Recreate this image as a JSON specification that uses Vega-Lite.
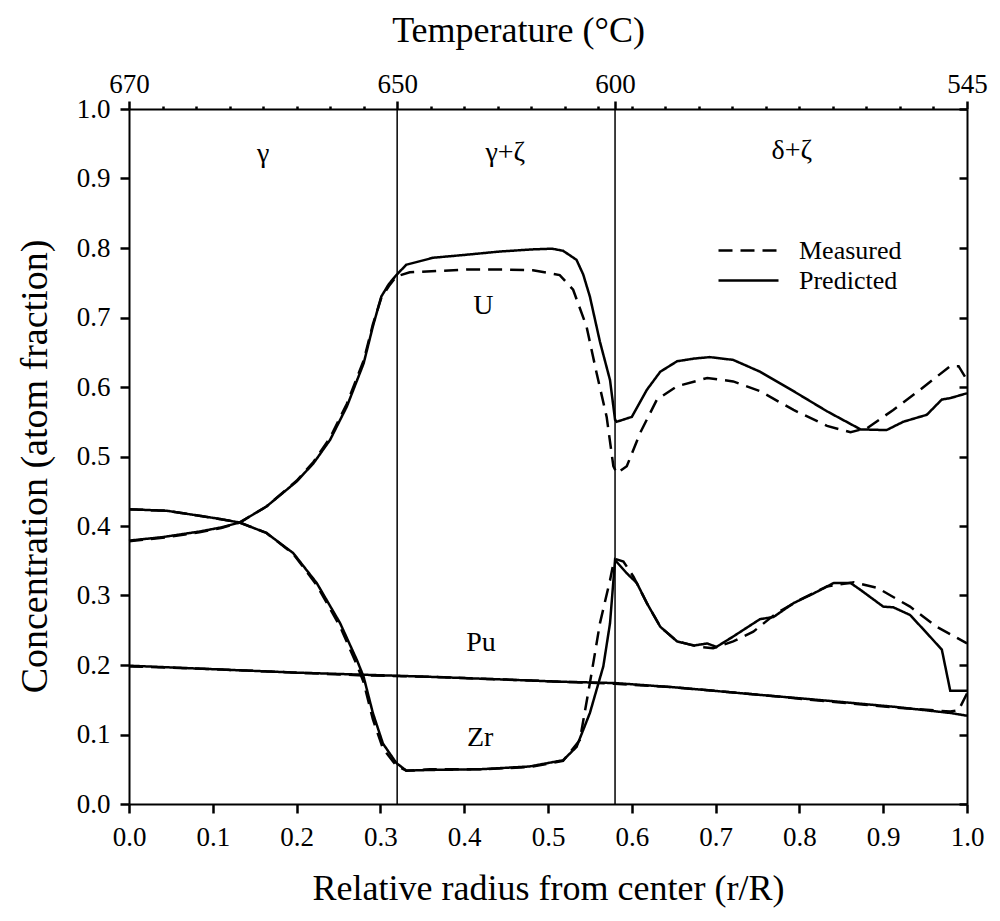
{
  "$schema": "https://vega.github.io/schema/vega-lite/v6.json",
  "width": 838,
  "height": 695,
  "autosize": {"type": "none"},
  "padding": {"left": 129, "top": 109, "right": 33, "bottom": 117},
  "background": "white",
  "config": {
    "view": {"stroke": null},
    "axis": {"domainColor": "black", "domainWidth": 2, "tickColor": "black", "tickWidth": 2.5, "labelColor": "black", "titleColor": "black", "labelFont": "Liberation Serif", "titleFont": "Liberation Serif", "titleFontWeight": "normal", "grid": false, "labelFlush": false, "labelOverlap": false}
  },
  "datasets": {
    "curves": [
      {"el": "U", "kind": "Predicted", "r": 0.000, "c": 0.379},
      {"el": "U", "kind": "Predicted", "r": 0.040, "c": 0.384},
      {"el": "U", "kind": "Predicted", "r": 0.084, "c": 0.392},
      {"el": "U", "kind": "Predicted", "r": 0.110, "c": 0.398},
      {"el": "U", "kind": "Predicted", "r": 0.132, "c": 0.405},
      {"el": "U", "kind": "Predicted", "r": 0.164, "c": 0.428},
      {"el": "U", "kind": "Predicted", "r": 0.200, "c": 0.464},
      {"el": "U", "kind": "Predicted", "r": 0.220, "c": 0.490},
      {"el": "U", "kind": "Predicted", "r": 0.240, "c": 0.524},
      {"el": "U", "kind": "Predicted", "r": 0.260, "c": 0.572},
      {"el": "U", "kind": "Predicted", "r": 0.280, "c": 0.634},
      {"el": "U", "kind": "Predicted", "r": 0.291, "c": 0.687},
      {"el": "U", "kind": "Predicted", "r": 0.301, "c": 0.730},
      {"el": "U", "kind": "Predicted", "r": 0.310, "c": 0.748},
      {"el": "U", "kind": "Predicted", "r": 0.319, "c": 0.761},
      {"el": "U", "kind": "Predicted", "r": 0.331, "c": 0.776},
      {"el": "U", "kind": "Predicted", "r": 0.363, "c": 0.786},
      {"el": "U", "kind": "Predicted", "r": 0.400, "c": 0.790},
      {"el": "U", "kind": "Predicted", "r": 0.443, "c": 0.795},
      {"el": "U", "kind": "Predicted", "r": 0.482, "c": 0.798},
      {"el": "U", "kind": "Predicted", "r": 0.505, "c": 0.799},
      {"el": "U", "kind": "Predicted", "r": 0.518, "c": 0.796},
      {"el": "U", "kind": "Predicted", "r": 0.534, "c": 0.783},
      {"el": "U", "kind": "Predicted", "r": 0.542, "c": 0.762},
      {"el": "U", "kind": "Predicted", "r": 0.550, "c": 0.730},
      {"el": "U", "kind": "Predicted", "r": 0.562, "c": 0.665},
      {"el": "U", "kind": "Predicted", "r": 0.574, "c": 0.610},
      {"el": "U", "kind": "Predicted", "r": 0.580, "c": 0.553},
      {"el": "U", "kind": "Predicted", "r": 0.582, "c": 0.550},
      {"el": "U", "kind": "Predicted", "r": 0.600, "c": 0.557},
      {"el": "U", "kind": "Predicted", "r": 0.618, "c": 0.596},
      {"el": "U", "kind": "Predicted", "r": 0.634, "c": 0.622},
      {"el": "U", "kind": "Predicted", "r": 0.654, "c": 0.637},
      {"el": "U", "kind": "Predicted", "r": 0.675, "c": 0.641},
      {"el": "U", "kind": "Predicted", "r": 0.693, "c": 0.643},
      {"el": "U", "kind": "Predicted", "r": 0.721, "c": 0.639},
      {"el": "U", "kind": "Predicted", "r": 0.753, "c": 0.622},
      {"el": "U", "kind": "Predicted", "r": 0.793, "c": 0.594},
      {"el": "U", "kind": "Predicted", "r": 0.833, "c": 0.565},
      {"el": "U", "kind": "Predicted", "r": 0.873, "c": 0.539},
      {"el": "U", "kind": "Predicted", "r": 0.904, "c": 0.538},
      {"el": "U", "kind": "Predicted", "r": 0.924, "c": 0.550},
      {"el": "U", "kind": "Predicted", "r": 0.952, "c": 0.560},
      {"el": "U", "kind": "Predicted", "r": 0.970, "c": 0.582},
      {"el": "U", "kind": "Predicted", "r": 0.980, "c": 0.584},
      {"el": "U", "kind": "Predicted", "r": 1.000, "c": 0.591},

      {"el": "U", "kind": "Measured", "r": 0.000, "c": 0.378},
      {"el": "U", "kind": "Measured", "r": 0.040, "c": 0.383},
      {"el": "U", "kind": "Measured", "r": 0.084, "c": 0.391},
      {"el": "U", "kind": "Measured", "r": 0.110, "c": 0.397},
      {"el": "U", "kind": "Measured", "r": 0.132, "c": 0.405},
      {"el": "U", "kind": "Measured", "r": 0.164, "c": 0.428},
      {"el": "U", "kind": "Measured", "r": 0.200, "c": 0.465},
      {"el": "U", "kind": "Measured", "r": 0.220, "c": 0.492},
      {"el": "U", "kind": "Measured", "r": 0.240, "c": 0.527},
      {"el": "U", "kind": "Measured", "r": 0.260, "c": 0.576},
      {"el": "U", "kind": "Measured", "r": 0.280, "c": 0.638},
      {"el": "U", "kind": "Measured", "r": 0.291, "c": 0.690},
      {"el": "U", "kind": "Measured", "r": 0.301, "c": 0.728},
      {"el": "U", "kind": "Measured", "r": 0.310, "c": 0.745},
      {"el": "U", "kind": "Measured", "r": 0.319, "c": 0.759},
      {"el": "U", "kind": "Measured", "r": 0.335, "c": 0.765},
      {"el": "U", "kind": "Measured", "r": 0.403, "c": 0.769},
      {"el": "U", "kind": "Measured", "r": 0.450, "c": 0.769},
      {"el": "U", "kind": "Measured", "r": 0.482, "c": 0.768},
      {"el": "U", "kind": "Measured", "r": 0.514, "c": 0.761},
      {"el": "U", "kind": "Measured", "r": 0.530, "c": 0.740},
      {"el": "U", "kind": "Measured", "r": 0.546, "c": 0.687},
      {"el": "U", "kind": "Measured", "r": 0.558, "c": 0.620},
      {"el": "U", "kind": "Measured", "r": 0.570, "c": 0.557},
      {"el": "U", "kind": "Measured", "r": 0.578, "c": 0.486},
      {"el": "U", "kind": "Measured", "r": 0.582, "c": 0.476},
      {"el": "U", "kind": "Measured", "r": 0.594, "c": 0.486},
      {"el": "U", "kind": "Measured", "r": 0.610, "c": 0.534},
      {"el": "U", "kind": "Measured", "r": 0.630, "c": 0.582},
      {"el": "U", "kind": "Measured", "r": 0.654, "c": 0.601},
      {"el": "U", "kind": "Measured", "r": 0.690, "c": 0.613},
      {"el": "U", "kind": "Measured", "r": 0.721, "c": 0.608},
      {"el": "U", "kind": "Measured", "r": 0.753, "c": 0.594},
      {"el": "U", "kind": "Measured", "r": 0.793, "c": 0.567},
      {"el": "U", "kind": "Measured", "r": 0.833, "c": 0.544},
      {"el": "U", "kind": "Measured", "r": 0.861, "c": 0.535},
      {"el": "U", "kind": "Measured", "r": 0.881, "c": 0.541},
      {"el": "U", "kind": "Measured", "r": 0.912, "c": 0.567},
      {"el": "U", "kind": "Measured", "r": 0.944, "c": 0.596},
      {"el": "U", "kind": "Measured", "r": 0.980, "c": 0.630},
      {"el": "U", "kind": "Measured", "r": 0.990, "c": 0.630},
      {"el": "U", "kind": "Measured", "r": 1.000, "c": 0.610},

      {"el": "Zr", "kind": "Predicted", "r": 0.000, "c": 0.424},
      {"el": "Zr", "kind": "Predicted", "r": 0.045, "c": 0.422},
      {"el": "Zr", "kind": "Predicted", "r": 0.104, "c": 0.411},
      {"el": "Zr", "kind": "Predicted", "r": 0.132, "c": 0.405},
      {"el": "Zr", "kind": "Predicted", "r": 0.164, "c": 0.390},
      {"el": "Zr", "kind": "Predicted", "r": 0.196, "c": 0.361},
      {"el": "Zr", "kind": "Predicted", "r": 0.224, "c": 0.318},
      {"el": "Zr", "kind": "Predicted", "r": 0.252, "c": 0.260},
      {"el": "Zr", "kind": "Predicted", "r": 0.272, "c": 0.207},
      {"el": "Zr", "kind": "Predicted", "r": 0.280, "c": 0.183},
      {"el": "Zr", "kind": "Predicted", "r": 0.291, "c": 0.131},
      {"el": "Zr", "kind": "Predicted", "r": 0.303, "c": 0.087},
      {"el": "Zr", "kind": "Predicted", "r": 0.319, "c": 0.059},
      {"el": "Zr", "kind": "Predicted", "r": 0.331, "c": 0.048},
      {"el": "Zr", "kind": "Predicted", "r": 0.359, "c": 0.049},
      {"el": "Zr", "kind": "Predicted", "r": 0.419, "c": 0.050},
      {"el": "Zr", "kind": "Predicted", "r": 0.478, "c": 0.054},
      {"el": "Zr", "kind": "Predicted", "r": 0.518, "c": 0.063},
      {"el": "Zr", "kind": "Predicted", "r": 0.534, "c": 0.082},
      {"el": "Zr", "kind": "Predicted", "r": 0.550, "c": 0.131},
      {"el": "Zr", "kind": "Predicted", "r": 0.566, "c": 0.198},
      {"el": "Zr", "kind": "Predicted", "r": 0.574, "c": 0.260},
      {"el": "Zr", "kind": "Predicted", "r": 0.580, "c": 0.351},
      {"el": "Zr", "kind": "Predicted", "r": 0.594, "c": 0.332},
      {"el": "Zr", "kind": "Predicted", "r": 0.606, "c": 0.318},
      {"el": "Zr", "kind": "Predicted", "r": 0.618, "c": 0.289},
      {"el": "Zr", "kind": "Predicted", "r": 0.634, "c": 0.255},
      {"el": "Zr", "kind": "Predicted", "r": 0.654, "c": 0.234},
      {"el": "Zr", "kind": "Predicted", "r": 0.674, "c": 0.228},
      {"el": "Zr", "kind": "Predicted", "r": 0.690, "c": 0.231},
      {"el": "Zr", "kind": "Predicted", "r": 0.701, "c": 0.226},
      {"el": "Zr", "kind": "Predicted", "r": 0.721, "c": 0.241},
      {"el": "Zr", "kind": "Predicted", "r": 0.753, "c": 0.266},
      {"el": "Zr", "kind": "Predicted", "r": 0.769, "c": 0.269},
      {"el": "Zr", "kind": "Predicted", "r": 0.793, "c": 0.289},
      {"el": "Zr", "kind": "Predicted", "r": 0.817, "c": 0.303},
      {"el": "Zr", "kind": "Predicted", "r": 0.841, "c": 0.318},
      {"el": "Zr", "kind": "Predicted", "r": 0.861, "c": 0.318},
      {"el": "Zr", "kind": "Predicted", "r": 0.873, "c": 0.308},
      {"el": "Zr", "kind": "Predicted", "r": 0.900, "c": 0.284},
      {"el": "Zr", "kind": "Predicted", "r": 0.912, "c": 0.283},
      {"el": "Zr", "kind": "Predicted", "r": 0.932, "c": 0.272},
      {"el": "Zr", "kind": "Predicted", "r": 0.952, "c": 0.246},
      {"el": "Zr", "kind": "Predicted", "r": 0.970, "c": 0.222},
      {"el": "Zr", "kind": "Predicted", "r": 0.980, "c": 0.163},
      {"el": "Zr", "kind": "Predicted", "r": 1.000, "c": 0.163},

      {"el": "Zr", "kind": "Measured", "r": 0.000, "c": 0.424},
      {"el": "Zr", "kind": "Measured", "r": 0.045, "c": 0.422},
      {"el": "Zr", "kind": "Measured", "r": 0.104, "c": 0.411},
      {"el": "Zr", "kind": "Measured", "r": 0.132, "c": 0.405},
      {"el": "Zr", "kind": "Measured", "r": 0.164, "c": 0.390},
      {"el": "Zr", "kind": "Measured", "r": 0.196, "c": 0.360},
      {"el": "Zr", "kind": "Measured", "r": 0.224, "c": 0.315},
      {"el": "Zr", "kind": "Measured", "r": 0.252, "c": 0.255},
      {"el": "Zr", "kind": "Measured", "r": 0.272, "c": 0.200},
      {"el": "Zr", "kind": "Measured", "r": 0.280, "c": 0.175},
      {"el": "Zr", "kind": "Measured", "r": 0.291, "c": 0.122},
      {"el": "Zr", "kind": "Measured", "r": 0.303, "c": 0.080},
      {"el": "Zr", "kind": "Measured", "r": 0.319, "c": 0.055},
      {"el": "Zr", "kind": "Measured", "r": 0.331, "c": 0.048},
      {"el": "Zr", "kind": "Measured", "r": 0.359, "c": 0.050},
      {"el": "Zr", "kind": "Measured", "r": 0.419, "c": 0.050},
      {"el": "Zr", "kind": "Measured", "r": 0.478, "c": 0.053},
      {"el": "Zr", "kind": "Measured", "r": 0.518, "c": 0.062},
      {"el": "Zr", "kind": "Measured", "r": 0.538, "c": 0.092},
      {"el": "Zr", "kind": "Measured", "r": 0.550, "c": 0.174},
      {"el": "Zr", "kind": "Measured", "r": 0.562, "c": 0.260},
      {"el": "Zr", "kind": "Measured", "r": 0.574, "c": 0.322},
      {"el": "Zr", "kind": "Measured", "r": 0.578, "c": 0.346},
      {"el": "Zr", "kind": "Measured", "r": 0.582, "c": 0.352},
      {"el": "Zr", "kind": "Measured", "r": 0.590, "c": 0.349},
      {"el": "Zr", "kind": "Measured", "r": 0.602, "c": 0.327},
      {"el": "Zr", "kind": "Measured", "r": 0.618, "c": 0.289},
      {"el": "Zr", "kind": "Measured", "r": 0.634, "c": 0.255},
      {"el": "Zr", "kind": "Measured", "r": 0.654, "c": 0.234},
      {"el": "Zr", "kind": "Measured", "r": 0.681, "c": 0.226},
      {"el": "Zr", "kind": "Measured", "r": 0.697, "c": 0.224},
      {"el": "Zr", "kind": "Measured", "r": 0.721, "c": 0.234},
      {"el": "Zr", "kind": "Measured", "r": 0.745, "c": 0.248},
      {"el": "Zr", "kind": "Measured", "r": 0.773, "c": 0.275},
      {"el": "Zr", "kind": "Measured", "r": 0.801, "c": 0.294},
      {"el": "Zr", "kind": "Measured", "r": 0.833, "c": 0.313},
      {"el": "Zr", "kind": "Measured", "r": 0.865, "c": 0.319},
      {"el": "Zr", "kind": "Measured", "r": 0.893, "c": 0.311},
      {"el": "Zr", "kind": "Measured", "r": 0.932, "c": 0.284},
      {"el": "Zr", "kind": "Measured", "r": 0.964, "c": 0.255},
      {"el": "Zr", "kind": "Measured", "r": 1.000, "c": 0.231},

      {"el": "Pu", "kind": "Predicted", "r": 0.000, "c": 0.199},
      {"el": "Pu", "kind": "Predicted", "r": 0.100, "c": 0.194},
      {"el": "Pu", "kind": "Predicted", "r": 0.200, "c": 0.189},
      {"el": "Pu", "kind": "Predicted", "r": 0.280, "c": 0.186},
      {"el": "Pu", "kind": "Predicted", "r": 0.359, "c": 0.183},
      {"el": "Pu", "kind": "Predicted", "r": 0.450, "c": 0.179},
      {"el": "Pu", "kind": "Predicted", "r": 0.514, "c": 0.176},
      {"el": "Pu", "kind": "Predicted", "r": 0.580, "c": 0.174},
      {"el": "Pu", "kind": "Predicted", "r": 0.650, "c": 0.168},
      {"el": "Pu", "kind": "Predicted", "r": 0.753, "c": 0.157},
      {"el": "Pu", "kind": "Predicted", "r": 0.830, "c": 0.149},
      {"el": "Pu", "kind": "Predicted", "r": 0.912, "c": 0.140},
      {"el": "Pu", "kind": "Predicted", "r": 0.980, "c": 0.131},
      {"el": "Pu", "kind": "Predicted", "r": 1.000, "c": 0.127},

      {"el": "Pu", "kind": "Measured", "r": 0.000, "c": 0.198},
      {"el": "Pu", "kind": "Measured", "r": 0.100, "c": 0.194},
      {"el": "Pu", "kind": "Measured", "r": 0.200, "c": 0.189},
      {"el": "Pu", "kind": "Measured", "r": 0.280, "c": 0.185},
      {"el": "Pu", "kind": "Measured", "r": 0.359, "c": 0.183},
      {"el": "Pu", "kind": "Measured", "r": 0.450, "c": 0.179},
      {"el": "Pu", "kind": "Measured", "r": 0.514, "c": 0.176},
      {"el": "Pu", "kind": "Measured", "r": 0.580, "c": 0.173},
      {"el": "Pu", "kind": "Measured", "r": 0.650, "c": 0.168},
      {"el": "Pu", "kind": "Measured", "r": 0.753, "c": 0.157},
      {"el": "Pu", "kind": "Measured", "r": 0.830, "c": 0.148},
      {"el": "Pu", "kind": "Measured", "r": 0.912, "c": 0.139},
      {"el": "Pu", "kind": "Measured", "r": 0.980, "c": 0.133},
      {"el": "Pu", "kind": "Measured", "r": 0.990, "c": 0.135},
      {"el": "Pu", "kind": "Measured", "r": 1.000, "c": 0.159}
    ],
    "phases": [{"r": 0.32}, {"r": 0.58}],
    "labels": [
      {"text": "γ", "r": 0.160, "c": 0.935},
      {"text": "γ+ζ", "r": 0.449, "c": 0.937},
      {"text": "δ+ζ", "r": 0.791, "c": 0.939},
      {"text": "U", "r": 0.423, "c": 0.716},
      {"text": "Pu", "r": 0.420, "c": 0.232},
      {"text": "Zr", "r": 0.419, "c": 0.095}
    ]
  },
  "layer": [
    {
      "data": {"name": "phases"},
      "mark": {"type": "rule", "color": "black", "strokeWidth": 1.5},
      "encoding": {
        "x": {
          "field": "r", "type": "quantitative",
          "scale": {"domain": [0, 1], "nice": false, "zero": false},
          "axis": {
            "orient": "top",
            "values": [0, 0.04, 0.08, 0.12, 0.16, 0.2, 0.24, 0.28, 0.32, 0.36, 0.4, 0.44, 0.48, 0.52, 0.56, 0.58, 0.6, 0.64, 0.68, 0.72, 0.76, 0.8, 0.84, 0.88, 0.92, 0.96, 1],
            "labelExpr": "datum.value == 0 ? '670' : abs(datum.value - 0.32) < 0.001 ? '650' : abs(datum.value - 0.58) < 0.001 ? '600' : datum.value == 1 ? '545' : ''",
            "tickSize": {"condition": {"test": "datum.value == 0 || abs(datum.value - 0.32) < 0.001 || abs(datum.value - 0.58) < 0.001 || datum.value == 1", "value": 8}, "value": 3},
            "labelFont": "Liberation Serif",
            "labelFontSize": 27,
            "labelPadding": 3,
            "title": "Temperature (°C)",
            "titleFont": "Liberation Serif",
            "titleFontSize": 36,
            "titlePadding": 21,
            "titleX": 389
          }
        }
      }
    },
    {
      "data": {"name": "curves"},
      "mark": {"type": "line", "color": "black", "strokeWidth": 2.5},
      "encoding": {
        "x": {
          "field": "r", "type": "quantitative",
          "scale": {"domain": [0, 1], "nice": false, "zero": false},
          "axis": {
            "orient": "bottom",
            "values": [0, 0.1, 0.2, 0.3, 0.4, 0.5, 0.6, 0.7, 0.8, 0.9, 1],
            "format": ".1f",
            "tickSize": 9,
            "labelFont": "Liberation Serif",
            "labelFontSize": 27,
            "labelPadding": 11,
            "title": "Relative radius from center (r/R)",
            "titleFont": "Liberation Serif",
            "titleFontSize": 36,
            "titlePadding": 21
          }
        },
        "y": {
          "field": "c", "type": "quantitative",
          "scale": {"domain": [0, 1], "nice": false, "zero": false},
          "axis": {
            "orient": "left",
            "values": [0, 0.1, 0.2, 0.3, 0.4, 0.5, 0.6, 0.7, 0.8, 0.9, 1],
            "format": ".1f",
            "tickSize": 9,
            "labelFont": "Liberation Serif",
            "labelFontSize": 27,
            "labelPadding": 10,
            "title": "Concentration (atom fraction)",
            "titleFont": "Liberation Serif",
            "titleFontSize": 38,
            "titlePadding": 22,
            "titleY": 357
          }
        },
        "detail": {"field": "el", "type": "nominal"},
        "strokeDash": {
          "field": "kind", "type": "nominal",
          "scale": {"domain": ["Measured", "Predicted"], "range": [[14, 8], [1, 0]]},
          "legend": {
            "orient": "none",
            "legendX": 603,
            "legendY": 125,
            "title": null,
            "padding": 0,
            "symbolType": "M-2,0H2",
            "symbolSize": 900,
            "symbolStrokeWidth": 2.5,
            "symbolStrokeColor": "black",
            "labelFont": "Liberation Serif",
            "labelFontSize": 26,
            "labelColor": "black",
            "labelOffset": 34,
            "rowPadding": 0
          }
        }
      }
    },
    {
      "data": {"name": "labels"},
      "mark": {"type": "text", "font": "Liberation Serif", "fontSize": 28, "color": "black", "align": "center", "baseline": "middle"},
      "encoding": {
        "x": {"field": "r", "type": "quantitative", "axis": null},
        "y": {
          "field": "c", "type": "quantitative",
          "axis": {
            "orient": "right",
            "values": [0, 0.1, 0.2, 0.3, 0.4, 0.5, 0.6, 0.7, 0.8, 0.9, 1],
            "labels": false,
            "tickSize": -8,
            "title": null
          }
        },
        "text": {"field": "text", "type": "nominal"}
      }
    }
  ],
  "resolve": {"axis": {"x": "independent", "y": "independent"}}
}
